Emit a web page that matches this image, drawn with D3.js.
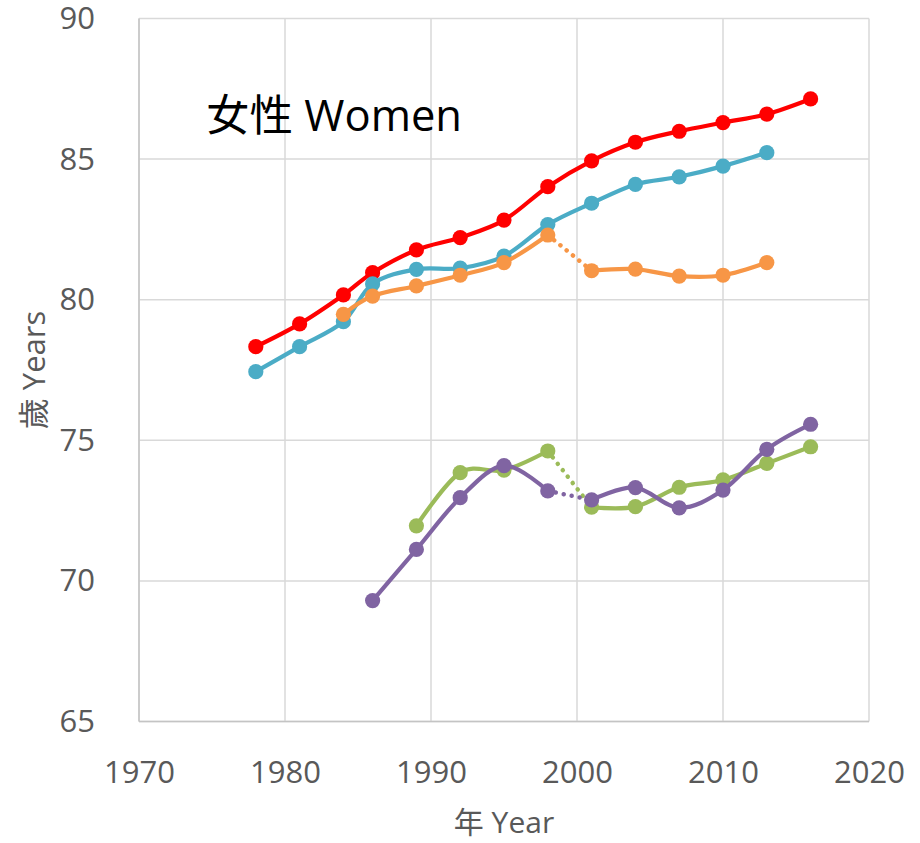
<!DOCTYPE html>
<html>
<head>
<meta charset="utf-8">
<script src="https://cdnjs.cloudflare.com/ajax/libs/d3/7.8.5/d3.min.js"></script>
<style>
  body { margin: 0; background: #fff; }
  svg text { font-family: "Open Sans", "Noto Sans CJK TC", sans-serif; }
</style>
</head>
<body>
<div id="chart"></div>
<script>
// survey years
var years = [1978, 1981, 1984, 1986, 1989, 1992, 1995, 1998, 2001, 2004, 2007, 2010, 2013, 2016];

// life expectancy of women, one array per line (null = no survey)
var redValues    = [78.33, 79.14, 80.17, 80.96, 81.77, 82.21, 82.83, 84.02, 84.94, 85.60, 85.99, 86.30, 86.60, 87.14];
var tealValues   = [77.44, 78.33, 79.22, 80.56, 81.08, 81.12, 81.55, 82.67, 83.43, 84.10, 84.37, 84.75, 85.23, null];
var orangeValues = [null, null, 79.48, 80.13, 80.49, 80.87, 81.32, 82.30, 81.03, 81.09, 80.84, 80.87, 81.32, null];
var greenValues  = [null, null, null, null, 71.96, 73.85, 73.94, 74.62, 72.62, 72.64, 73.33, 73.59, 74.18, 74.77];
var purpleValues = [null, null, null, 69.30, 71.12, 72.96, 74.10, 73.20, 72.88, 73.32, 72.60, 73.23, 74.68, 75.57];

// lines that break after this year (joined by a dotted segment)
var breakYear = 1998;

var xTicks = [1970, 1980, 1990, 2000, 2010, 2020];
var yTicks = [65, 70, 75, 80, 85, 90];

var series = [
  {values: redValues,    color: '#FF0000', broken: false},
  {values: tealValues,   color: '#4BACC6', broken: false},
  {values: orangeValues, color: '#F79646', broken: true},
  {values: greenValues,  color: '#9BBB59', broken: true},
  {values: purpleValues, color: '#8064A2', broken: true}
];

var svg = d3.select('#chart').append('svg')
  .attr('width', 920)
  .attr('height', 843);

var plot = {l: 139, r: 869, t: 18.5, b: 721.5};

var x = d3.scaleLinear().domain([1970, 2020]).range([plot.l, plot.r]);
var y = d3.scaleLinear().domain([65, 90]).range([plot.b, plot.t]);

// gridlines
var grid = svg.append('g');
grid.selectAll('.hgrid')
  .data(yTicks)
  .enter().append('line')
  .attr('x1', plot.l).attr('x2', plot.r)
  .attr('y1', function(d) { return y(d); })
  .attr('y2', function(d) { return y(d); })
  .style('stroke', '#d9d9d9')
  .style('stroke-width', 1.5);
grid.selectAll('.vgrid')
  .data(xTicks)
  .enter().append('line')
  .attr('x1', function(d) { return x(d); })
  .attr('x2', function(d) { return x(d); })
  .attr('y1', plot.t).attr('y2', plot.b)
  .style('stroke', '#d9d9d9')
  .style('stroke-width', 1.5);

// axis lines
svg.append('line')
  .attr('x1', plot.l).attr('x2', plot.l).attr('y1', plot.t).attr('y2', plot.b)
  .style('stroke', '#c4c4c4').style('stroke-width', 1.5);
svg.append('line')
  .attr('x1', plot.l).attr('x2', plot.r).attr('y1', plot.b).attr('y2', plot.b)
  .style('stroke', '#c4c4c4').style('stroke-width', 1.5);

// tick labels
var xAxis = svg.append('g')
  .attr('transform', 'translate(0,' + plot.b + ')')
  .call(d3.axisBottom(x).tickValues(xTicks).tickFormat(d3.format('d')).tickSize(0).tickPadding(39));
var yAxis = svg.append('g')
  .attr('transform', 'translate(' + plot.l + ',0)')
  .call(d3.axisLeft(y).tickValues(yTicks).tickSize(0).tickPadding(44));
[xAxis, yAxis].forEach(function(a) {
  a.select('.domain').remove();
  a.selectAll('text')
    .style('font-family', '"Open Sans", sans-serif')
    .style('font-size', '31px')
    .style('fill', '#595959');
});

// axis titles
svg.append('text')
  .attr('x', (plot.l + plot.r) / 2)
  .attr('y', 833)
  .attr('text-anchor', 'middle')
  .style('font-size', '30px')
  .style('fill', '#595959')
  .text('年 Year');
svg.append('text')
  .attr('transform', 'translate(45,' + (plot.t + plot.b) / 2 + ') rotate(-90)')
  .attr('text-anchor', 'middle')
  .style('font-size', '31px')
  .style('fill', '#595959')
  .text('歲 Years');

// chart title
svg.append('text')
  .attr('x', 206)
  .attr('y', 131)
  .style('font-size', '43.5px')
  .style('fill', '#000')
  .text('女性 Women');

var line = d3.line()
  .x(function(d) { return x(d.year); })
  .y(function(d) { return y(d.value); })
  .curve(d3.curveCardinal.tension(0));

var lines = svg.append('g');

series.forEach(function(s) {
  var pts = [];
  s.values.forEach(function(v, i) {
    if (v !== null) pts.push({year: years[i], value: v});
  });
  var segments = s.broken
    ? [pts.filter(function(p) { return p.year <= breakYear; }),
       pts.filter(function(p) { return p.year > breakYear; })]
    : [pts];

  var g = lines.append('g');
  if (s.broken) {
    var a = segments[0][segments[0].length - 1];
    var b = segments[1][0];
    g.append('path')
      .attr('d', d3.line().x(function(d) { return x(d.year); }).y(function(d) { return y(d.value); })([a, b]))
      .style('fill', 'none')
      .style('stroke', s.color)
      .style('stroke-width', 4.5)
      .style('stroke-linecap', 'round')
      .style('stroke-dasharray', '0.1 8');
  }
  segments.forEach(function(seg) {
    g.append('path')
      .attr('d', line(seg))
      .style('fill', 'none')
      .style('stroke', s.color)
      .style('stroke-width', 4.2);
  });
  g.selectAll('circle')
    .data(pts)
    .enter().append('circle')
    .attr('cx', function(d) { return x(d.year); })
    .attr('cy', function(d) { return y(d.value); })
    .attr('r', 7.6)
    .style('fill', s.color);
});
</script>
</body>
</html>
